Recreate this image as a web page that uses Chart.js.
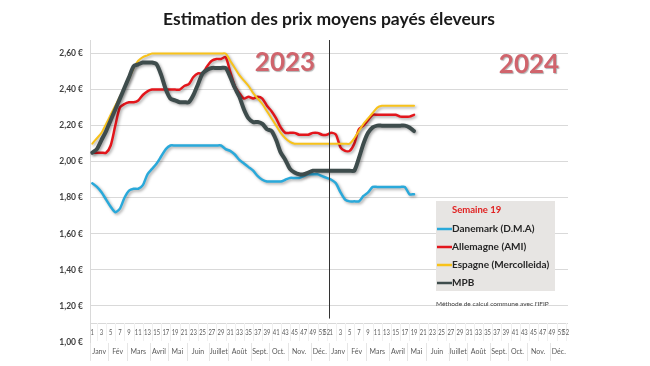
<!DOCTYPE html>
<html><head><meta charset="utf-8">
<script src="https://cdn.jsdelivr.net/npm/chart.js@4.4.1/dist/chart.umd.min.js"></script>
<style>html,body{margin:0;padding:0;background:#fff}</style>
</head><body>
<canvas id="c" width="650" height="366"></canvas>
<script>
const weekLabels = [1,2,3,4,5,6,7,8,9,10,11,12,13,14,15,16,17,18,19,20,21,22,23,24,25,26,27,28,29,30,31,32,33,34,35,36,37,38,39,40,41,42,43,44,45,46,47,48,49,50,51,52,
  1,2,3,4,5,6,7,8,9,10,11,12,13,14,15,16,17,18,19,20,21,22,23,24,25,26,27,28,29,30,31,32,33,34,35,36,37,38,39,40,41,42,43,44,45,46,47,48,49,50,51,52];
const monthNames = ['Janv','Fév','Mars','Avril','Mai','Juin','Juillet','Août','Sept.','Oct.','Nov.','Déc.'];
const monthFirstWeeks = [1,5,9,14,18,22,27,31,36,40,44,49];
const yTicks = [1.0,1.2,1.4,1.6,1.8,2.0,2.2,2.4,2.6];

const danemark = [1.88,1.86,1.83,1.79,1.75,1.72,1.74,1.80,1.84,1.85, 1.85,1.87,1.93,1.96,1.99,2.03,2.07,2.09,2.09,2.09,
  2.09,2.09,2.09,2.09,2.09,2.09,2.09,2.09,2.09,2.07, 2.06,2.04,2.01,1.99,1.97,1.95,1.92,1.90,1.89,1.89,
  1.89,1.89,1.90,1.91,1.91,1.91,1.92,1.93,1.93,1.93, 1.92,1.91,1.90,1.88,1.83,1.79,1.78,1.78,1.78,1.81,
  1.83,1.86,1.86,1.86,1.86,1.86,1.86,1.86,1.86,1.82, 1.82];
const allemagne = [2.05,2.05,2.05,2.05,2.09,2.20,2.30,2.32,2.33,2.33, 2.34,2.37,2.39,2.40,2.40,2.40,2.40,2.40,2.40,2.40,
  2.42,2.43,2.47,2.49,2.49,2.53,2.56,2.57,2.57,2.58, 2.50,2.42,2.38,2.35,2.36,2.35,2.36,2.35,2.31,2.28,
  2.24,2.19,2.16,2.16,2.16,2.15,2.15,2.15,2.16,2.16, 2.15,2.15,2.16,2.15,2.08,2.06,2.06,2.10,2.18,2.20,
  2.23,2.26,2.26,2.26,2.26,2.26,2.26,2.25,2.25,2.25, 2.26];
const espagne = [2.10,2.13,2.16,2.21,2.26,2.31,2.36,2.41,2.46,2.52, 2.56,2.58,2.59,2.60,2.60,2.60,2.60,2.60,2.60,2.60,
  2.60,2.60,2.60,2.60,2.60,2.60,2.60,2.60,2.60,2.60, 2.56,2.52,2.48,2.45,2.42,2.38,2.35,2.32,2.28,2.24,
  2.20,2.16,2.13,2.11,2.10,2.10,2.10,2.10,2.10,2.10, 2.10,2.10,2.10,2.10,2.10,2.10,2.10,2.13,2.17,2.21,
  2.24,2.27,2.30,2.31,2.31,2.31,2.31,2.31,2.31,2.31, 2.31];
const mpb = [2.05,2.07,2.12,2.17,2.23,2.29,2.35,2.41,2.47,2.53, 2.54,2.55,2.55,2.55,2.54,2.48,2.40,2.35,2.34,2.33,
  2.33,2.33,2.37,2.43,2.49,2.51,2.52,2.52,2.52,2.52, 2.47,2.41,2.36,2.29,2.24,2.22,2.22,2.21,2.18,2.17,
  2.12,2.05,2.01,1.96,1.94,1.93,1.93,1.94,1.95,1.95, 1.95,1.95,1.95,1.95,1.95,1.95,1.95,1.95,2.02,2.10,
  2.16,2.19,2.20,2.20,2.20,2.20,2.20,2.20,2.20,2.19, 2.17];

const FONT = 'Lato, "Open Sans", sans-serif';

const shadowPlugin = {
  id: 'shadow',
  beforeDatasetDraw(chart, args) {
    const ctx = chart.ctx; ctx.save();
    ctx.shadowColor = 'rgba(0,0,0,0.35)';
    ctx.shadowBlur = 3; ctx.shadowOffsetX = 1.5; ctx.shadowOffsetY = 1.5;
  },
  afterDatasetDraw(chart) { chart.ctx.restore(); }
};

const decoPlugin = {
  id: 'deco',
  afterDraw(chart) {
    const {ctx, chartArea, scales: {x, y}} = chart;
    const step = x.getPixelForValue(1) - x.getPixelForValue(0);
    const bottom = chartArea.bottom;
    ctx.save();
    ctx.strokeStyle = '#D9D9D9'; ctx.lineWidth = 1;
    ctx.beginPath(); ctx.moveTo(chartArea.left, Math.round(bottom - 19) + 0.5); ctx.lineTo(chartArea.right, Math.round(bottom - 19) + 0.5); ctx.stroke();
    // faint separators between week labels (drawn first, midway between labels)
    ctx.strokeStyle = '#F0F0F0';
    for (let i = 1; i < weekLabels.length; i += 2) {
      const px = Math.round(x.getPixelForValue(i)) + 0.5;
      ctx.beginPath(); ctx.moveTo(px, bottom - 19); ctx.lineTo(px, bottom - 1); ctx.stroke();
    }
    // week labels (horizontally condensed like the narrow original font)
    ctx.font = '7.5px ' + FONT; ctx.fillStyle = '#595959'; ctx.textAlign = 'center'; ctx.textBaseline = 'middle';
    weekLabels.forEach((w, i) => {
      if (w % 2 === 1 || w === 52) {
        ctx.save();
        ctx.translate(x.getPixelForValue(i), bottom - 9);
        ctx.scale(0.78, 1);
        ctx.fillText(String(w), 0, 0);
        ctx.restore();
      }
    });
    // month labels
    ctx.fillStyle = '#595959'; ctx.font = '7px ' + FONT;
    for (let yr = 0; yr < 2; yr++) {
      monthNames.forEach((m, k) => {
        const first = yr * 52 + monthFirstWeeks[k] - 1;
        const last = yr * 52 + (k < 11 ? monthFirstWeeks[k + 1] - 2 : 51);
        const cx = (x.getPixelForValue(first) + x.getPixelForValue(last)) / 2;
        ctx.fillText(m, cx, bottom + 10);
        const sx = Math.round(x.getPixelForValue(first) - step / 2) + 0.5;
        ctx.strokeStyle = '#E6E6E6';
        ctx.beginPath(); ctx.moveTo(sx, bottom + 1); ctx.lineTo(sx, bottom + 19); ctx.stroke();
      });
    }
    // year divider
    const dx = Math.round((x.getPixelForValue(51) + x.getPixelForValue(52)) / 2) + 0.5;
    ctx.strokeStyle = '#333'; ctx.lineWidth = 1;
    ctx.beginPath(); ctx.moveTo(dx, chartArea.top); ctx.lineTo(dx, y.getPixelForValue(1.13)); ctx.stroke();
    // year texts
    ctx.font = 'bold 26px ' + FONT; ctx.fillStyle = '#D0646C';
    ctx.shadowColor = 'rgba(0,0,0,0.3)'; ctx.shadowOffsetX = 1; ctx.shadowOffsetY = 1; ctx.shadowBlur = 1;
    ctx.fillText('2023', 285, 63);
    ctx.fillText('2024', 529, 65);
    ctx.shadowColor = 'transparent';
    // legend box
    const bx = 436, by = 201, bw = 119, bh = 90;
    ctx.fillStyle = '#E7E5E3'; ctx.fillRect(bx, by, bw, bh);
    ctx.textAlign = 'left';
    ctx.font = 'bold 9.5px ' + FONT; ctx.fillStyle = '#E02020';
    ctx.fillText('Semaine 19', 452, 210);
    const ys = [229, 247, 265, 283];
    chart.data.datasets.forEach((ds, i) => {
      ctx.strokeStyle = ds.borderColor; ctx.lineWidth = 2.5;
      ctx.beginPath(); ctx.moveTo(437, ys[i]); ctx.lineTo(452, ys[i]); ctx.stroke();
      ctx.fillStyle = '#262626'; ctx.font = 'bold 10px ' + FONT;
      ctx.fillText(ds.label, 452, ys[i]);
    });
    ctx.font = '6.5px ' + FONT; ctx.fillStyle = '#404040';
    ctx.fillText("Méthode de calcul commune avec l'IFIP", 436, 304);
    ctx.restore();
  }
};

new Chart(document.getElementById('c'), {
  type: 'line',
  data: {
    labels: weekLabels,
    datasets: [
      { label: 'Danemark (D.M.A)', data: danemark, borderColor: '#2AA9DA', borderWidth: 2.5, order: 3 },
      { label: 'Allemagne (AMI)', data: allemagne, borderColor: '#E3161C', borderWidth: 2.5, order: 2 },
      { label: 'Espagne (Mercolleida)', data: espagne, borderColor: '#F8C21A', borderWidth: 2, order: 1 },
      { label: 'MPB', data: mpb, borderColor: '#3E4C4C', borderWidth: 4, order: 0 }
    ].map(d => Object.assign(d, { pointRadius: 0, tension: 0.25, fill: false, borderCapStyle: 'round', borderJoinStyle: 'round' }))
  },
  options: {
    responsive: false, devicePixelRatio: 1, animation: false,
    layout: { padding: { left: 0, right: 82, top: 0, bottom: 24 } },
    plugins: {
      legend: { display: false }, tooltip: { enabled: false },
      title: { display: true, text: 'Estimation des prix moyens payés éleveurs', fullSize: false,
        font: { family: FONT, weight: 'bold', size: 17.5 }, color: '#1A1A1A', padding: { top: 9, bottom: 10 } }
    },
    scales: {
      x: { type: 'category', display: false, offset: true },
      y: {
        min: 1.0, max: 2.675,
        afterBuildTicks: s => { s.ticks = yTicks.map(v => ({ value: v })); },
        afterFit: s => { s.width = 90; },
        ticks: { callback: v => Number(v).toFixed(2).replace('.', ',') + ' €',
          font: { family: FONT, weight: 'bold', size: 8.5 }, color: '#404040', padding: 7 },
        grid: { color: c => (c.tick && c.tick.value < 1.01) ? 'rgba(0,0,0,0)' : '#D9D9D9', drawTicks: false },
        border: { color: '#D9D9D9' }
      }
    }
  },
  plugins: [shadowPlugin, decoPlugin]
});
</script>
</body></html>
